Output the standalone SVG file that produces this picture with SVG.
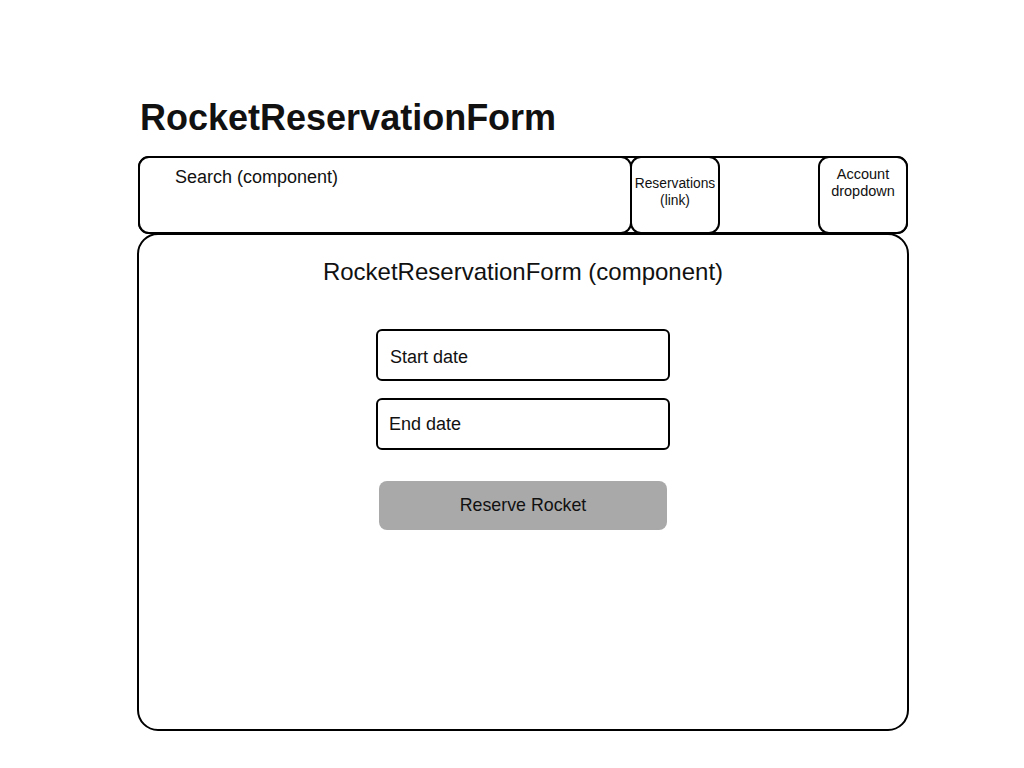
<svg xmlns="http://www.w3.org/2000/svg" width="1024" height="768" viewBox="0 0 1024 768">
<style>
.box{fill:#fff;stroke:#000;stroke-width:2}
.t{font-family:"Liberation Sans",Arial,sans-serif;fill:#111}
</style>
<rect width="1024" height="768" fill="#fff"/>
<text class="t" x="140" y="130" font-size="36" font-weight="bold" fill="#000">RocketReservationForm</text>
<g id="header">
<rect class="box" x="139" y="157" width="768" height="76" rx="10"/>
</g>
<g id="search">
<rect class="box" x="139" y="157" width="492" height="76" rx="10"/>
<text class="t" x="175" y="183" font-size="18">Search (component)</text>
</g>
<g id="reservations">
<rect class="box" x="631" y="157" width="88" height="76" rx="10"/>
<text class="t" x="675" y="188" font-size="13.8" text-anchor="middle">Reservations</text>
<text class="t" x="675" y="205" font-size="13.8" text-anchor="middle">(link)</text>
</g>
<g id="account">
<rect class="box" x="819" y="157" width="88" height="76" rx="10"/>
<text class="t" x="863" y="179" font-size="14.5" text-anchor="middle">Account</text>
<text class="t" x="863" y="196" font-size="14.5" text-anchor="middle">dropdown</text>
</g>
<g id="main">
<rect class="box" x="138" y="234" width="770" height="496" rx="20"/>
<text class="t" x="523" y="280" font-size="24" text-anchor="middle">RocketReservationForm (component)</text>
</g>
<g id="start">
<rect class="box" x="377" y="330" width="292" height="50" rx="5"/>
<text class="t" x="390" y="363" font-size="18">Start date</text>
</g>
<g id="end">
<rect class="box" x="377" y="399" width="292" height="50" rx="5"/>
<text class="t" x="389" y="430" font-size="18">End date</text>
</g>
<g id="button">
<rect x="379" y="481" width="288" height="49" rx="8" fill="#a9a9a9"/>
<text class="t" x="523" y="511" font-size="17.8" text-anchor="middle">Reserve Rocket</text>
</g>
<g id="connectors"></g>
</svg>
